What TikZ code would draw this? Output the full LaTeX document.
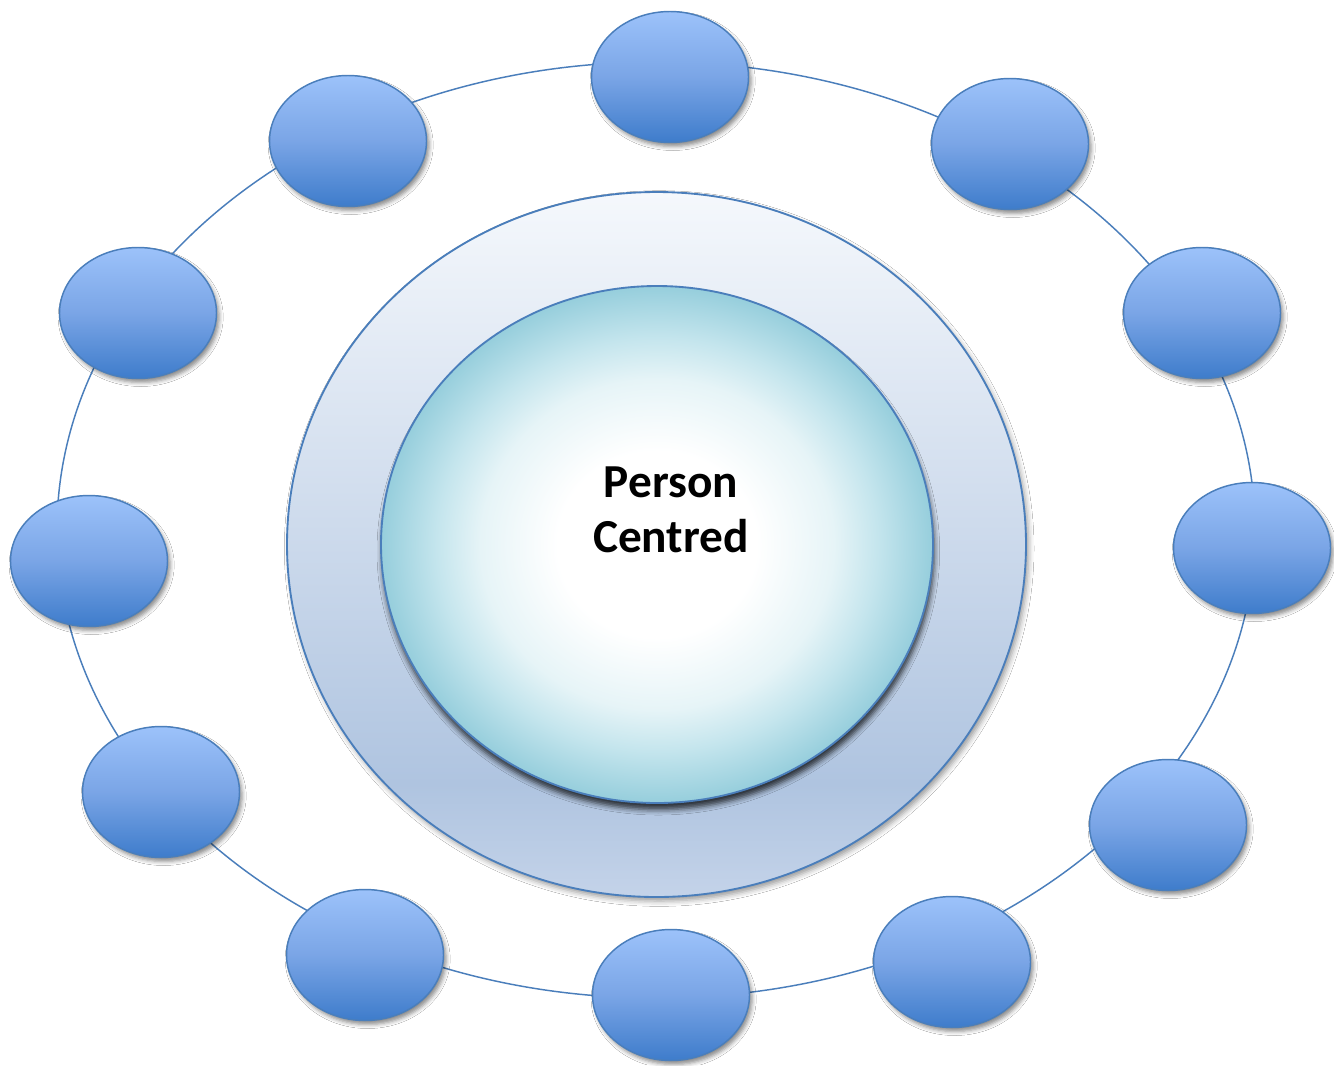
\documentclass[tikz,border=0pt]{standalone}
\usepackage{fontspec}
\setmainfont{Carlito}
\usetikzlibrary{shapes.geometric,shadows.blur}
\definecolor{ringc}{HTML}{4A7EBB}
\definecolor{sTop}{HTML}{9CC2FA}
\definecolor{sMid}{HTML}{7AA5E6}
\definecolor{sBot}{HTML}{3E7CCB}
\definecolor{bTop}{HTML}{F5F8FC}
\definecolor{bLow}{HTML}{AFC4E0}
\definecolor{bBot}{HTML}{C4D3E9}
\definecolor{iEdge}{HTML}{96CEDC}
\definecolor{iMid}{HTML}{E6F4F7}
\definecolor{iMid2}{HTML}{C4E5ED}
\pgfdeclareverticalshading{smallsh}{100bp}{color(0bp)=(sBot);color(25bp)=(sBot);color(50bp)=(sMid);color(75bp)=(sTop);color(100bp)=(sTop)}
\pgfdeclareverticalshading{bigsh}{100bp}{color(0bp)=(bBot);color(25bp)=(bBot);color(33bp)=(bLow);color(75bp)=(bTop);color(100bp)=(bTop)}
\pgfdeclareradialshading{innersh}{\pgfpointorigin}{color(0bp)=(white);color(9bp)=(white);color(16bp)=(iMid);color(20bp)=(iMid2);color(25bp)=(iEdge);color(50bp)=(iEdge)}
\tikzset{
  sm/.style={ellipse, draw=ringc, line width=1.1pt, shading=smallsh, inner sep=0pt,
    minimum width=157*0.75pt, minimum height=131*0.75pt,
    blur shadow={shadow xshift=2pt, shadow yshift=-3pt, shadow blur radius=3pt, shadow opacity=45}},
  ringst/.style={ellipse, draw=ringc, line width=1.1pt, inner sep=0pt},
  bigst/.style={ellipse, draw=ringc, line width=1.4pt, shading=bigsh, inner sep=0pt,
    blur shadow={shadow xshift=2pt, shadow yshift=-3pt, shadow blur radius=4pt, shadow opacity=40}},
  innerst/.style={ellipse, draw=ringc, line width=1.4pt, shading=innersh, inner sep=0pt,
    blur shadow={shadow xshift=1pt, shadow yshift=-5pt, shadow blur radius=4pt, shadow opacity=75}},
  lbl/.style={font=\fontsize{35.5}{41.25}\selectfont\bfseries, align=center, inner sep=0pt, text=black}
}
\begin{document}
\begin{tikzpicture}[x=0.75pt, y=-0.75pt]
\useasboundingbox (0,0) rectangle (1334,1065);
\fill[white] (0,0) rectangle (1334,1065);
\node[ringst, minimum width=1198*0.75pt, minimum height=936*0.75pt] (ring) at (656,530) {};
\node[bigst, minimum width=739*0.75pt, minimum height=705*0.75pt] (big) at (656.5,544.5) {};
\node[innerst, minimum width=552*0.75pt, minimum height=517*0.75pt] (inner) at (657,544.5) {};
\node[sm] (e1) at (670,77) {};
\node[sm] (e2) at (1010,144) {};
\node[sm] (e3) at (1202,313) {};
\node[sm] (e4) at (1252,548) {};
\node[sm] (e5) at (1168,825) {};
\node[sm] (e6) at (952,962) {};
\node[sm] (e7) at (671,995) {};
\node[sm] (e8) at (365,955) {};
\node[sm] (e9) at (161,792) {};
\node[sm] (e10) at (89,561) {};
\node[sm] (e11) at (138,313) {};
\node[sm] (e12) at (348,141) {};
\node[lbl] (label) at (671,510) {Person\\Centred};
\end{tikzpicture}
\end{document}
